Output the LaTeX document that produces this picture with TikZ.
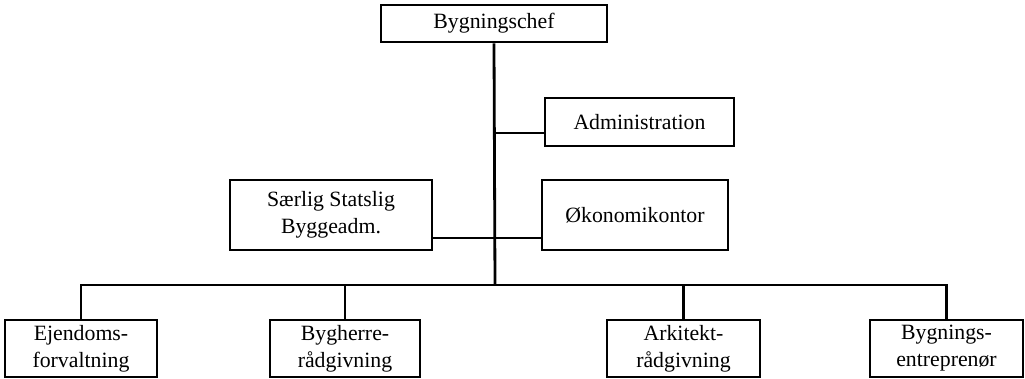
\documentclass[tikz,border=0pt]{standalone}
\usepackage{fontspec}
\setmainfont{Liberation Serif}
\usetikzlibrary{calc}
\usetikzlibrary{positioning}

\begin{document}
\begin{tikzpicture}[x=0.5pt,y=-0.5pt,
      font=\fontsize{10.9}{13.5}\selectfont,
      unit style/.style={draw=black,line width=1.3pt,align=center,inner sep=0pt,
        minimum height=28.5pt},
      link style/.style={line width=1.4pt}
      ]
      \useasboundingbox (0,0) rectangle (1025,379);
      % top of the chart
      \node[unit style,minimum width=113pt,minimum height=18.5pt] (chef) at (494,23.5) {Bygningschef};
      \node[unit style,minimum width=94.5pt,minimum height=24pt] (adm) at (639.5,122) {Administration};
      \node[unit style,minimum width=101pt,minimum height=35pt] (ssb) at (331,215) {Særlig Statslig\\Byggeadm.};
      \node[unit style,minimum width=93pt,minimum height=35pt] (oko) at (635,215) {Økonomikontor};
      % departments
      \node[unit style,minimum width=76pt] (ejd) at (81,348.5) {Ejendoms-\\forvaltning};
      \node[unit style,minimum width=75pt] (bhr) at (345,348.5) {Bygherre-\\rådgivning};
      \node[unit style,minimum width=76.5pt] (ark) at (683.5,348.5) {Arkitekt-\\rådgivning};
      \node[unit style,minimum width=76.5pt] (ent) at (946.5,348.5) {Bygnings-\\entreprenør};
      \coordinate (admjoin) at (495,133);
      \coordinate (ssbjoin) at (495,238);
      \coordinate (bus) at (495,285);
      \draw[link style] (chef.south) -- (bus);
      \draw[link style] (admjoin) -- (adm.west |- admjoin);
      \draw[link style] (ssb.east |- ssbjoin) -- (oko.west |- ssbjoin);
      \draw[link style] (ejd.north) -- (ejd.north |- bus) -- (ent.north |- bus) -- (ent.north);
      \draw[link style] (bhr.north) -- (bhr.north |- bus);
      \draw[link style] (ark.north) -- (ark.north |- bus);
    \end{tikzpicture}
\end{document}
